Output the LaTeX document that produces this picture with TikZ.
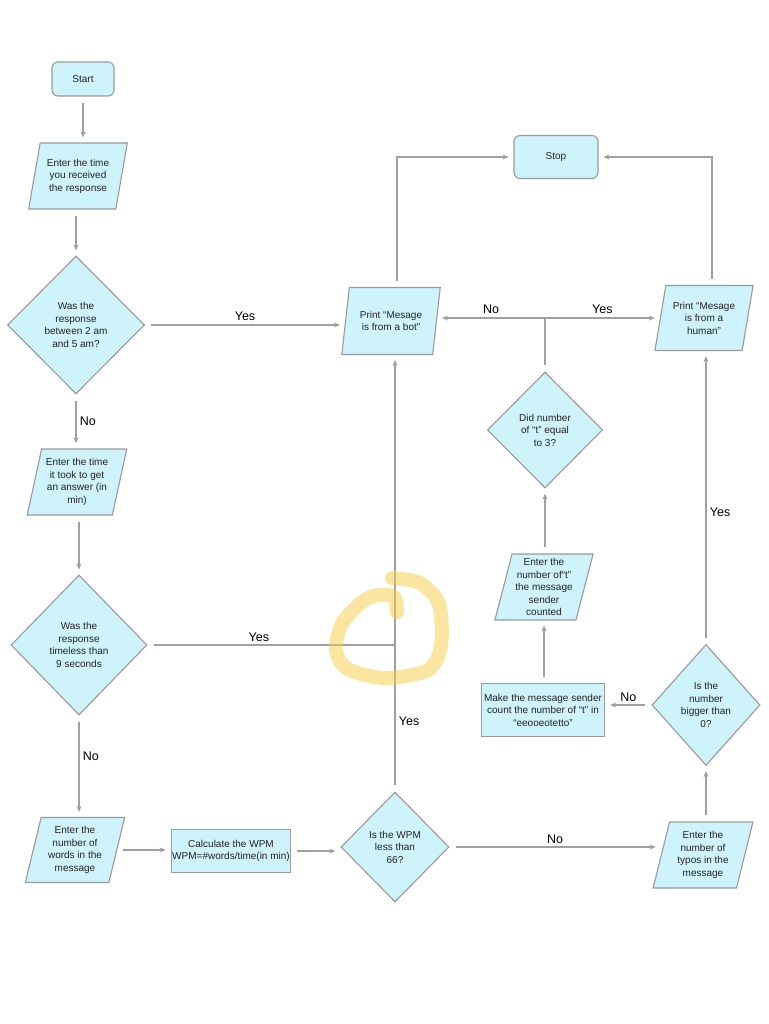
\documentclass[tikz,border=0pt]{standalone}
\usepackage{fontspec}
\setmainfont{Liberation Sans}
\usetikzlibrary{shapes.geometric,arrows.meta}
\definecolor{boxfill}{HTML}{CFF3FB}
\definecolor{boxline}{HTML}{9A9A9A}
\definecolor{lnk}{HTML}{A0A0A0}
\definecolor{txt}{HTML}{222222}
\definecolor{hl}{HTML}{F7CF45}
\begin{document}
\begin{tikzpicture}[x=1pt,y=-1pt,
 base/.style={draw=boxline, fill=boxfill, line width=1.1pt, text=txt, font=\fontsize{10}{12.5}\selectfont, align=center, inner sep=1pt},
 term/.style={base, rectangle, rounded corners=6pt},
 proc/.style={base, rectangle},
 io/.style={base, trapezium, trapezium left angle=75, trapezium right angle=105, trapezium stretches=true},
 dec/.style={base, diamond, aspect=1, inner sep=0pt},
 arr/.style={draw=lnk, line width=1.1pt, -{Stealth[length=6pt,width=5pt]}, shorten <=6pt, shorten >=5pt},
 ln/.style={draw=lnk, line width=1.1pt, shorten <=6pt},
 lab/.style={font=\fontsize{12.5}{14}\selectfont, text=black}
]
\fill[white] (0,0) rectangle (768,1024);
\useasboundingbox (0,0) rectangle (768,1024);

\node[term, minimum width=62pt, minimum height=34pt] (start) at (83,79) {Start};
\node[io, minimum width=99pt, minimum height=66pt] (in1) at (78,176) {Enter the time\\you received\\the response};
\node[dec, minimum width=137pt, minimum height=138pt] (d1) at (76,325) {Was the\\response\\between 2 am\\and 5 am?};
\node[io, minimum width=100pt, minimum height=66pt] (in2) at (77,482) {Enter the time\\it took to get\\an answer (in\\min)};
\node[dec, minimum width=136pt, minimum height=140pt] (d2) at (79,645) {Was the\\response\\timeless than\\9 seconds};
\node[io, minimum width=100pt, minimum height=65pt] (in3) at (75,850) {Enter the\\number of\\words in the\\message};
\node[proc, minimum width=118pt, minimum height=43pt] (calc) at (231,851) {Calculate the WPM\\WPM=\#words/time(in min)};
\node[dec, minimum width=108pt, minimum height=110pt] (d3) at (395,847) {Is the WPM\\less than\\66?};
\node[io, minimum width=100pt, minimum height=66pt] (in4) at (703,855) {Enter the\\number of\\typos in the\\message};
\node[dec, minimum width=108pt, minimum height=121pt] (d4) at (706,705) {Is the\\number\\bigger than\\0?};
\node[proc, minimum width=123pt, minimum height=53pt] (make) at (543,710) {Make the message sender\\count the number of “t” in\\“eeooeotetto”};
\node[io, minimum width=99pt, minimum height=66pt] (in5) at (544,587) {Enter the\\number of“t”\\the message\\sender\\counted};
\node[dec, minimum width=115pt, minimum height=116pt] (d5) at (545,430) {Did number\\of “t” equal\\to 3?};
\node[io, minimum width=99pt, minimum height=67pt] (pbot) at (391,321) {Print “Mesage\\is from a bot”};
\node[io, minimum width=99pt, minimum height=65pt] (phum) at (704,318) {Print “Mesage\\is from a\\human”};
\node[term, minimum width=84pt, minimum height=43pt] (stop) at (556,157) {Stop};

\draw[arr] (start.south) -- (start.south |- in1.north);
\draw[arr] (in1.south -| d1.north) -- (d1.north);
\draw[arr] (d1.east) -- (d1.east -| pbot.west) node[lab, midway, above]{Yes};
\draw[arr] (d1.south) -- (d1.south |- in2.north) node[lab, midway, right]{No};
\draw[arr] (in2.south -| d2.north) -- (d2.north);
\draw[ln] (d2.east) -- (d2.east -| d3.north) node[lab, pos=0.45, above]{Yes};
\draw[arr] (d3.north) -- (d3.north |- pbot.south) node[lab, pos=0.16, right]{Yes};
\draw[arr] (d2.south) -- (d2.south |- in3.north) node[lab, pos=0.4, right]{No};
\draw[arr] (in3.east) -- (in3.east -| calc.west);
\draw[arr] (calc.east) -- (calc.east -| d3.west);
\draw[arr] (d3.east) -- (d3.east -| in4.west) node[lab, midway, above]{No};
\draw[arr] (in4.north -| d4.south) -- (d4.south);
\draw[arr] (d4.west) -- (d4.west -| make.east) node[lab, midway, above]{No};
\draw[arr] (make.north -| in5.south) -- (in5.south);
\draw[arr] (in5.north -| d5.south) -- (d5.south);
\draw[ln] (d5.north) -- (d5.north |- phum.center) coordinate (j2);
\draw[arr, shorten <=0pt] (j2) -- (j2 -| pbot.east) node[lab, midway, above]{No};
\draw[arr, shorten <=0pt] (j2) -- (j2 -| phum.west) node[lab, midway, above]{Yes};
\draw[arr] (d4.north) -- (d4.north |- phum.south) node[lab, pos=0.45, right]{Yes};
\draw[arr] ([xshift=6pt]pbot.north) |- (stop.west);
\draw[arr] ([xshift=8pt]phum.north) |- (stop.east);

\draw[hl, line width=14pt, opacity=0.5, line cap=round, line join=round]
  plot[smooth] coordinates {(397,612) (393,596) (368,598) (343,622) (336,650) (348,669) (385,678) (428,670) (441,645) (439,604) (420,583) (392,578)};
\end{tikzpicture}
\end{document}
